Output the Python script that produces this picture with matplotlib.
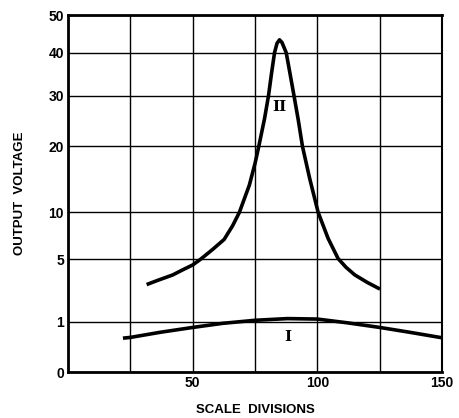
#!/usr/bin/env python3

import numpy as np
import matplotlib
matplotlib.use("Agg")
import matplotlib.pyplot as plt

# curve I: broad, flat response
x_one = [22, 25, 37, 50, 62, 75, 88, 100, 112, 125, 137, 150]
y_one = [0.45, 0.47, 0.62, 0.78, 0.93, 1.05, 1.12, 1.10, 0.95, 0.78, 0.62, 0.46]

# curve II: sharp resonance peak
x_two = [31.5, 36, 42, 46, 50, 53.2, 58, 62.6, 66, 68.7, 72.7, 75, 76.5, 78.8, 80.4,
         81.6, 82.8, 83.8, 84.8, 85.8, 87.5, 89, 90.6, 92.3, 94, 96.9, 100.3,
         104.3, 108.3, 111.5, 115, 120, 125.1]
y_two = [3.0, 3.3, 3.7, 4.1, 4.5, 5.0, 5.9, 6.9, 8.4, 10.0, 13.7, 17.1, 20.0, 25.2, 30.0,
         35.0, 40.0, 42.4, 43.3, 42.6, 40.0, 35.0, 30.0, 25.0, 20.0, 14.7, 10.0,
         7.0, 5.05, 4.3, 3.7, 3.15, 2.7]

x_grid = [0, 25, 50, 75, 100, 125, 150]
x_labels = ["", "", "50", "", "100", "", "150"]
y_grid = [0, 1, 5, 10, 20, 30, 40, 50]
y_labels = ["0", "1", "5", "10", "20", "30", "40", "50"]

plt.rcParams["font.family"] = ["Liberation Sans", "DejaVu Sans"]

fig = plt.figure(figsize=(4.6, 4.18), dpi=100)
ax = fig.add_axes([0.148, 0.110, 0.813, 0.854])

# the y axis is square-root spaced
ax.set_yscale("function", functions=(lambda v: np.sqrt(np.clip(v, 0, None)), np.square))
ax.set_xlim(0, 150)
ax.set_ylim(0, 50)

ax.set_xticks(x_grid)
ax.set_xticklabels(x_labels)
ax.set_yticks(y_grid)
ax.set_yticklabels(y_labels)
ax.minorticks_off()
ax.tick_params(length=0, labelsize=10, pad=3)
for lab in ax.get_xticklabels() + ax.get_yticklabels():
    lab.set_fontweight("bold")

ax.grid(True, color="black", linewidth=1.0)
ax.set_axisbelow(True)
for side in ["left", "bottom", "top"]:
    ax.spines[side].set_linewidth(2.0)
ax.spines["right"].set_linewidth(1.5)

ax.plot(x_one, y_one, color="black", linewidth=2.6, solid_capstyle="butt")
ax.plot(x_two, y_two, color="black", linewidth=2.6, solid_capstyle="butt",
        solid_joinstyle="round")

ax.text(88, 0.48, "I", family="DejaVu Serif", fontweight="bold", fontsize=11,
        ha="center", va="center")
ax.text(84.8, 27.5, "II", family="DejaVu Serif", fontweight="bold", fontsize=11,
        ha="center", va="center")

ax.set_xlabel("SCALE  DIVISIONS", fontsize=9.5, fontweight="bold", labelpad=10)
ax.set_ylabel("OUTPUT  VOLTAGE", fontsize=9.5, fontweight="bold", labelpad=16)

fig.savefig("out.png", dpi=100)
plt.close(fig)
